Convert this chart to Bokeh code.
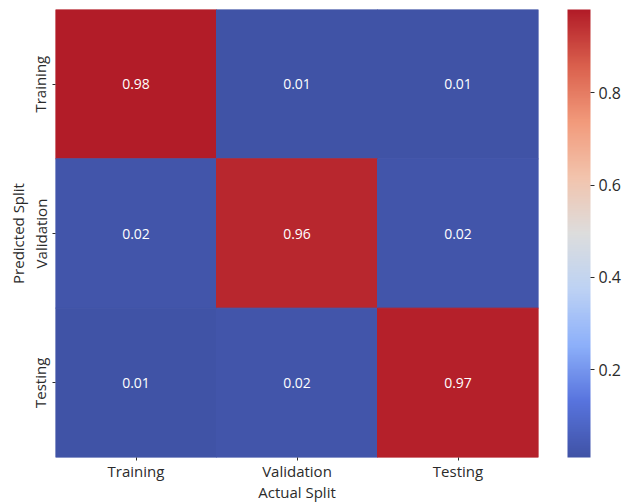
from bokeh.plotting import figure
from bokeh.models import ColumnDataSource, ColorBar, LinearColorMapper, FixedTicker, Title
from bokeh.embed import file_html
from bokeh.resources import INLINE
from bokeh.core.properties import value

# Confusion matrix of split predictions
splits = ["Training", "Validation", "Testing"]
predicted = ["Training", "Training", "Training",
             "Validation", "Validation", "Validation",
             "Testing", "Testing", "Testing"]
actual = ["Training", "Validation", "Testing",
          "Training", "Validation", "Testing",
          "Training", "Validation", "Testing"]
scores = [0.98, 0.01, 0.01,
          0.02, 0.96, 0.02,
          0.01, 0.02, 0.97]
colorbar_ticks = [0.2, 0.4, 0.6, 0.8]

# coolwarm-style diverging palette built from anchor colours
anchors = [(64, 83, 166), (88, 116, 222), (141, 176, 250), (189, 210, 244),
           (221, 221, 221), (242, 196, 173), (242, 154, 123), (218, 96, 77),
           (178, 28, 40)]
palette = []
n = 256
for i in range(n):
    t = i / (n - 1) * (len(anchors) - 1)
    k = min(int(t), len(anchors) - 2)
    f = t - k
    c0, c1 = anchors[k], anchors[k + 1]
    rgb = tuple(int(round(c0[j] + (c1[j] - c0[j]) * f)) for j in range(3))
    palette.append("#%02x%02x%02x" % rgb)

mapper = LinearColorMapper(palette=palette, low=min(scores), high=max(scores))

src = ColumnDataSource(dict(
    actual=actual, predicted=predicted, score=scores,
    label=["%.2f" % s for s in scores],
))

FONT = "Open Sans"
TEXT = "#2b2b2b"
p = figure(width=624, height=504, x_range=splits, y_range=list(reversed(splits)),
           toolbar_location=None, output_backend="svg",
           min_border_left=55, min_border_top=9, min_border_bottom=47, min_border_right=85)
p.outline_line_color = None
p.grid.visible = False

cell_color = {"field": "score", "transform": mapper}
p.rect(x="actual", y="predicted", width=1, height=1, source=src,
       fill_color=cell_color, line_color=cell_color, line_width=1)
p.text(x="actual", y="predicted", text="label", source=src,
       text_color="white", text_font=value(FONT), text_font_size="14px",
       text_align="center", text_baseline="middle")

for ax in (p.xaxis[0], p.yaxis[0]):
    ax.axis_line_color = None
    ax.major_tick_in = 0
    ax.major_tick_out = 3
    ax.major_tick_line_color = TEXT
    ax.minor_tick_line_color = None
    ax.major_label_text_font = FONT
    ax.major_label_text_font_size = "15px"
    ax.major_label_text_color = TEXT
    ax.axis_label_text_font = FONT
    ax.axis_label_text_font_size = "15px"
    ax.axis_label_text_font_style = "normal"
    ax.axis_label_text_color = TEXT
    ax.major_label_standoff = 2
    ax.axis_label_standoff = 0

p.xaxis.axis_label = "Actual Split"
p.xaxis.major_label_standoff = 0
p.xaxis.axis_label_standoff = -2
p.yaxis.axis_label = "Predicted Split"
p.yaxis.major_label_orientation = "vertical"

# blank gap between the heatmap and the colour bar
p.add_layout(Title(text=" ", text_font_size="16px", standoff=10), "right")

cb = ColorBar(color_mapper=mapper, ticker=FixedTicker(ticks=colorbar_ticks),
              width=23, padding=0,
              major_label_text_font=FONT, major_label_text_font_size="16px",
              major_label_text_color=TEXT,
              major_tick_in=0, major_tick_out=4, major_tick_line_color=TEXT,
              bar_line_color=None, label_standoff=4, background_fill_color=None,
              border_line_color=None)
p.add_layout(cb, "right")

open("out.html", "w").write(file_html(p, INLINE))
